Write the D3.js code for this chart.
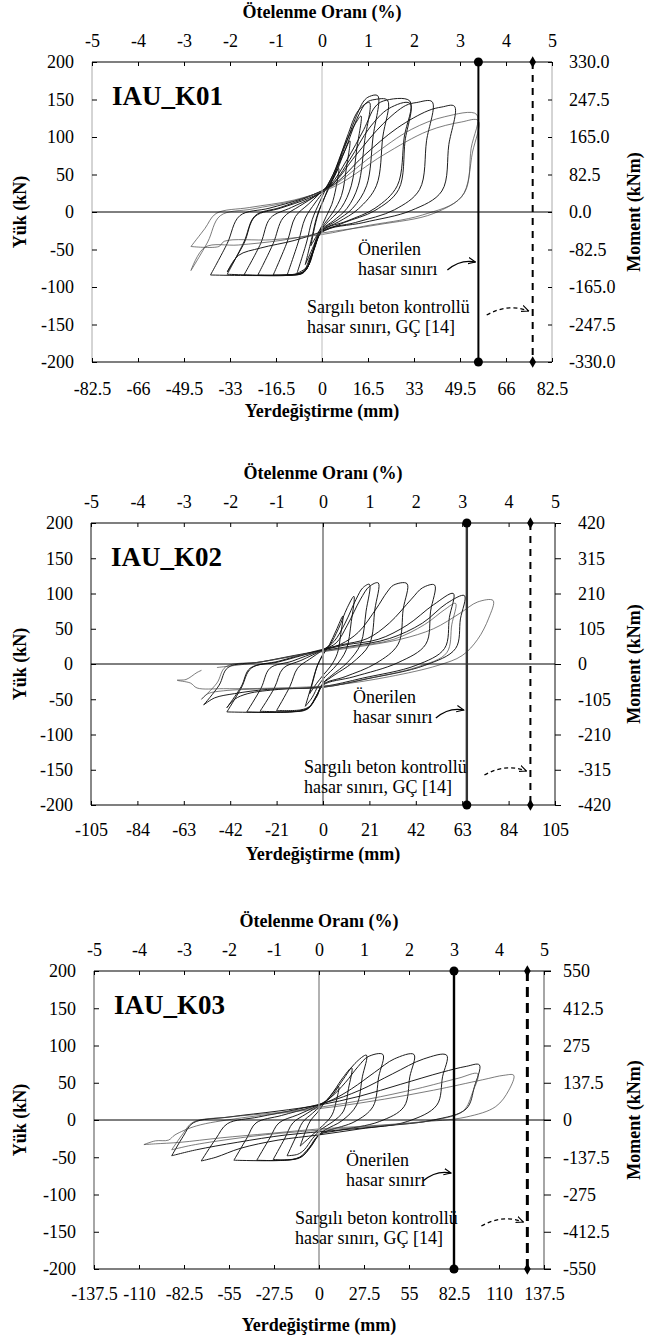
<!DOCTYPE html>
<html>
<head>
<meta charset="utf-8">
<script src="https://cdn.jsdelivr.net/npm/d3@7"></script>
<style>
  body { margin: 0; background: #fff; }
</style>
</head>
<body>
<svg class="d3" width="647" height="1341"></svg>
<script>
// tick labels
var driftTicks = [-5, -4, -3, -2, -1, 0, 1, 2, 3, 4, 5];
var loadTicks = [200, 150, 100, 50, 0, -50, -100, -150, -200];
var dispTicksK01 = ["-82.5", "-66", "-49.5", "-33", "-16.5", "0", "16.5", "33", "49.5", "66", "82.5"];
var dispTicksK02 = ["-105", "-84", "-63", "-42", "-21", "0", "21", "42", "63", "84", "105"];
var dispTicksK03 = ["-137.5", "-110", "-82.5", "-55", "-27.5", "0", "27.5", "55", "82.5", "110", "137.5"];
var momentTicksK01 = ["330.0", "247.5", "165.0", "82.5", "0.0", "-82.5", "-165.0", "-247.5", "-330.0"];
var momentTicksK02 = ["420", "315", "210", "105", "0", "-105", "-210", "-315", "-420"];
var momentTicksK03 = ["550", "412.5", "275", "137.5", "0", "-137.5", "-275", "-412.5", "-550"];

var specimens = ["IAU_K01", "IAU_K02", "IAU_K03"];
var mmPerDrift = [16.5, 21, 27.5];     // mm for 1 % drift
var proposedLimit = [3.4, 3.1, 3.0];   // Önerilen hasar sınırı (drift %)
var gcLimit = [4.58, 4.47, 4.63];      // GÇ [14] (drift %)

// hysteresis loops, [displacement mm, load kN]
var loopsK01 = [
  [[-4,-45],[-2.5,-18],[-1,2],[0.5,15],[2,30],[4,45],[6,58],[5,32],[3.5,10],[1.5,-6],[0,-18],[-2,-32],[-4,-45]],
  [[-6,-70],[-3.5,-32],[-2,-8],[0,12],[2,28],[5,55],[8,80],[10,95],[8.8,60],[7,22],[4,0],[1,-15],[-1,-26],[-3,-45],[-6,-70]],
  [[-9,-82],[-5.5,-40],[-3.5,-10],[-1,12],[1,28],[4,50],[8,88],[12,118],[14,128],[12.5,85],[10.5,35],[7,6],[3,-10],[0,-22],[-2.5,-45],[-5,-72],[-9,-82]],
  [[-12.5,-84],[-8.5,-40],[-6,-8],[-2.5,12],[1,30],[5,58],[9,100],[13,135],[17,146],[15.3,95],[13,35],[9,5],[4,-12],[0,-23],[-2.5,-45],[-5,-72],[-7,-82],[-12.5,-84]],
  [[-17.5,-84],[-12.5,-40],[-9.5,-6],[-5,10],[-1,24],[3,40],[8,85],[12,125],[15,148],[17,154],[20,155],[18.3,100],[16,35],[11,5],[5,-12],[0,-24],[-3,-50],[-5.5,-76],[-8,-83],[-17.5,-84]],
  [[-23,-84],[-17.5,-42],[-14,-8],[-8,8],[-2,22],[3,38],[8,80],[13,128],[16,146],[19,150],[23.5,149],[21.8,100],[19.5,35],[13,4],[6,-13],[0,-25],[-3,-52],[-6,-78],[-10,-83],[-23,-84]],
  [[-28,-84],[-22,-42],[-18.5,-8],[-11,6],[-3,20],[3,36],[9,70],[15,110],[19,140],[22,148],[31.5,148],[29.5,100],[27,35],[19,5],[9,-12],[0,-25],[-3.5,-55],[-6,-78],[-11,-84],[-28,-84]],
  [[-34,-80],[-28,-42],[-24,-6],[-15,5],[-5,18],[3,34],[10,70],[17,112],[24,138],[31.5,145],[29.8,95],[27.5,30],[19,2],[8,-14],[0,-26],[-10,-38],[-22,-48],[-30,-58],[-34,-80]],
  [[-34,-83],[-28,-40],[-24,-5],[-15,6],[-5,20],[4,38],[12,75],[22,118],[30,142],[34,146],[39.5,147],[37.5,95],[35,30],[26,3],[12,-14],[0,-26],[-3.5,-55],[-6.5,-80],[-12,-84],[-34,-83]],
  [[-40,-84],[-34,-42],[-29.5,-5],[-19,5],[-7,18],[4,36],[15,75],[27,112],[38,135],[43,140],[47.5,141],[45.5,90],[43,28],[32,2],[15,-14],[0,-27],[-4,-58],[-7,-80],[-14,-84],[-40,-84]],
  [[-47,-78],[-41,-40],[-36.5,-5],[-25,4],[-10,15],[3,33],[18,75],[32,110],[44,127],[55.5,130],[53.5,85],[51,25],[40,-2],[20,-17],[0,-28],[-15,-38],[-30,-44],[-42,-47],[-47,-78]],
  [[-47,-46],[-42,-22],[-38,-2],[-26,6],[-10,16],[5,35],[22,76],[38,108],[50,120],[56,122],[54,80],[50,20],[36,-4],[15,-19],[0,-30],[-18,-37],[-35,-39],[-37,-46],[-47,-46]]
];

var loopsK02 = [
  [[-6,-42],[-4,-18],[-2.5,-2],[0,13],[3,28],[6,48],[9,68],[8,42],[6.5,15],[3.5,-3],[0,-16],[-3,-28],[-6,-42]],
  [[-8,-60],[-5,-28],[-3,-6],[0,14],[3,26],[7,50],[11,80],[14,96],[12.8,60],[10.5,20],[6,-2],[1,-18],[-2,-30],[-5,-48],[-8,-60]],
  [[-21,-66],[-15,-32],[-11.5,-6],[-6,7],[0,20],[5,32],[10,58],[15,92],[18,108],[21,113],[19.5,75],[17,28],[11,2],[4,-16],[0,-27],[-3,-45],[-6,-60],[-10,-65],[-21,-66]],
  [[-28.5,-67],[-22,-34],[-18,-6],[-10,5],[0,20],[6,30],[11,55],[17,92],[21,110],[25,115],[23.5,78],[21,28],[13,1],[5,-16],[0,-28],[-3,-45],[-6.5,-62],[-12,-67],[-28.5,-67]],
  [[-34.5,-68],[-28,-34],[-24,-6],[-14,4],[-2,18],[8,28],[16,45],[24,78],[29,102],[32,112],[38,114],[36.3,78],[34,28],[24,1],[10,-18],[0,-29],[-3,-47],[-7,-64],[-14,-68],[-34.5,-68]],
  [[-43.5,-68],[-37,-34],[-32.5,-6],[-20,4],[-5,17],[8,27],[20,36],[30,58],[40,92],[45,108],[50.5,112],[48.7,75],[46.5,28],[34,2],[14,-18],[0,-30],[-3,-47],[-7.5,-64],[-16,-68],[-43.5,-68]],
  [[-43.5,-62],[-37,-32],[-33,-6],[-20,3],[-5,16],[10,27],[25,35],[38,55],[50,84],[59,100],[57.2,66],[55,22],[42,-2],[18,-20],[0,-32],[-20,-36],[-34,-42],[-40,-50],[-43.5,-62]],
  [[-54,-58],[-47,-30],[-43,-5],[-28,3],[-8,15],[12,25],[30,36],[45,58],[56,86],[64,97],[62.2,64],[60,22],[46,-2],[20,-21],[0,-33],[-25,-36],[-40,-42],[-49,-48],[-54,-58]],
  [[-55,-50],[-48,-27],[-44,-4],[-28,3],[-8,14],[12,24],[32,35],[46,56],[55,77],[60,86],[58.3,56],[56,16],[43,-4],[18,-22],[0,-33],[-25,-35],[-45,-38],[-52,-42],[-55,-50]],
  [[-48,-5],[-30,2],[-8,14],[15,24],[35,35],[50,50],[62,72],[70,88],[77,90],[75,65],[70,35],[63,12],[52,-2],[30,-18],[5,-30],[-20,-34],[-45,-35],[-57,-34],[-60,-27],[-66,-23],[-62,-22],[-57,-12],[-55,-9]]
];

var loopsK03 = [
  [[-11.5,-35],[-8,-14],[-5,0],[-1,10],[2,19],[6,30],[12,45],[10.5,25],[8,7],[4,-4],[0,-12],[-5,-22],[-11.5,-35]],
  [[-19.5,-48],[-14,-22],[-10,-3],[-4,9],[1,19],[7,32],[14,55],[20,70],[18,42],[15,12],[8,-3],[1,-13],[-4,-25],[-9,-40],[-13,-46],[-19.5,-48]],
  [[-28,-53],[-21,-25],[-16,-4],[-8,8],[0,19],[7,30],[14,52],[22,76],[29,87],[26.5,58],[23,20],[14,-1],[4,-13],[0,-20],[-5,-35],[-10,-48],[-16,-53],[-28,-53]],
  [[-38,-54],[-30,-24],[-24.5,-4],[-13,7],[-2,18],[7,30],[16,50],[24,72],[30,85],[39,88],[36.5,58],[33,18],[22,-2],[6,-14],[0,-20],[-5,-36],[-11,-50],[-20,-54],[-38,-54]],
  [[-52,-54],[-44,-24],[-38.5,-4],[-23,6],[-5,17],[8,27],[20,42],[34,64],[46,82],[58,88],[55.5,58],[52,18],[37,-2],[12,-14],[0,-20],[-6,-37],[-12,-50],[-22,-54],[-52,-54]],
  [[-72,-55],[-63,-25],[-56,-5],[-37,4],[-14,14],[5,24],[25,40],[45,62],[64,82],[78,87],[75.5,58],[72,20],[54,-2],[25,-12],[0,-20],[-25,-27],[-48,-38],[-63,-50],[-72,-55]],
  [[-90,-48],[-83,-22],[-77,-4],[-55,4],[-25,12],[0,20],[25,32],[50,48],[75,64],[90,72],[98,74],[95,45],[90,15],[70,0],[40,-8],[10,-14],[-20,-20],[-50,-30],[-75,-40],[-90,-48]],
  [[-90,-40],[-83,-18],[-77,-3],[-55,4],[-25,10],[0,17],[30,28],[60,42],[85,56],[97,62],[94,38],[88,12],[68,-1],[35,-8],[5,-13],[-25,-18],[-55,-26],[-78,-34],[-90,-40]],
  [[-107,-33],[-100,-28],[-92,-27],[-88,-20],[-75,-8],[-50,2],[-20,10],[10,18],[40,28],[70,40],[100,54],[113,60],[119,60],[116,40],[108,18],[90,4],[60,-3],[30,-8],[0,-12],[-30,-18],[-60,-24],[-85,-30],[-100,-32],[-107,-33]]
];

var loopSets = [loopsK01, loopsK02, loopsK03];
var dispTickSets = [dispTicksK01, dispTicksK02, dispTicksK03];
var momentTickSets = [momentTicksK01, momentTicksK02, momentTicksK03];

var serif = "'Liberation Serif', 'Times New Roman', serif";

// page layout for the three panels
var frames = [
  { left: 92, right: 552, axisR: 552, top: 62, bottom: 362, rTick: -4, bPad: 20, edge: "#aaa", zero: "#bbb", edgeW: 1, annY: [255, 313], annX: [358, 307] },
  { left: 91, right: 555, axisR: 555, top: 523, bottom: 805, rTick: 6, bPad: 18, edge: "#888", zero: "#999", edgeW: 2, annY: [703, 773], annX: [353, 304] },
  { left: 94, right: 544, axisR: 551, top: 971, bottom: 1269, rTick: -7, bPad: 18, edge: "#888", zero: "#999", edgeW: 1.5, annY: [1166, 1224], annX: [346, 295] }
];

var svg = d3.select("svg.d3");

svg.append("defs").append("marker")
    .attr("id", "arrow")
    .attr("viewBox", "0 -5 10 10")
    .attr("refX", 9)
    .attr("refY", 0)
    .attr("markerWidth", 8)
    .attr("markerHeight", 8)
    .attr("markerUnits", "userSpaceOnUse")
    .attr("orient", "auto")
  .append("path")
    .attr("d", "M0,-4L9,0L0,4")
    .attr("fill", "none")
    .attr("stroke", "#000")
    .attr("stroke-width", 1.4);

frames.forEach(function (f, i) {
  var g = svg.append("g");
  var x = d3.scaleLinear().domain([-5, 5]).range([f.left, f.right]);
  var xmm = d3.scaleLinear().domain([-5 * mmPerDrift[i], 5 * mmPerDrift[i]]).range([f.left, f.right]);
  var y = d3.scaleLinear().domain([-200, 200]).range([f.bottom, f.top]);

  // curves
  var line = d3.line()
      .x(function (d) { return xmm(d[0]); })
      .y(function (d) { return y(d[1]); })
      .curve(d3.curveCatmullRom.alpha(0.5));

  var loops = loopSets[i];
  g.append("g").selectAll("path")
      .data(loops)
    .enter().append("path")
      .attr("d", line)
      .attr("fill", "none")
      .attr("stroke", function (d, j) { return j >= loops.length - 2 ? "#444" : "#111"; })
      .attr("stroke-width", function (d, j) { return j >= loops.length - 2 ? 0.7 : 0.95; });

  // frame and zero lines
  g.append("line").attr("x1", f.left).attr("x2", f.left).attr("y1", f.top).attr("y2", f.bottom)
      .attr("stroke", f.edge).attr("stroke-width", f.edgeW);
  g.append("line").attr("x1", f.right).attr("x2", f.right).attr("y1", f.top).attr("y2", f.bottom)
      .attr("stroke", f.edge).attr("stroke-width", f.edgeW);
  g.append("line").attr("x1", x(0)).attr("x2", x(0)).attr("y1", f.top).attr("y2", f.bottom)
      .attr("stroke", f.zero).attr("stroke-width", f.edgeW);
  g.append("line").attr("x1", f.left).attr("x2", f.axisR).attr("y1", y(0)).attr("y2", y(0))
      .attr("stroke", "#000").attr("stroke-width", 1);
  g.append("line").attr("x1", f.left).attr("x2", f.axisR).attr("y1", f.top).attr("y2", f.top)
      .attr("stroke", "#000").attr("stroke-width", 1.2);
  g.append("line").attr("x1", f.left).attr("x2", f.axisR).attr("y1", f.bottom).attr("y2", f.bottom)
      .attr("stroke", "#000").attr("stroke-width", 1.2);

  // axes
  function style(sel) {
    sel.select(".domain").remove();
    sel.attr("font-size", 18);
    sel.selectAll(".tick line").attr("stroke", "#000");
  }
  var plain = function (d) { return String(d); };
  g.append("g").attr("transform", "translate(0," + f.top + ")")
      .call(d3.axisTop(x).tickValues(driftTicks).tickFormat(plain).tickSizeInner(-4).tickSizeOuter(0).tickPadding(15))
      .call(style);
  g.append("g").attr("transform", "translate(0," + f.bottom + ")")
      .call(d3.axisBottom(x).tickValues(driftTicks).tickSizeInner(-4).tickSizeOuter(0).tickPadding(f.bPad)
        .tickFormat(function (d, j) { return dispTickSets[i][j]; }))
      .call(style);
  g.append("g").attr("transform", "translate(" + f.left + ",0)")
      .call(d3.axisLeft(y).tickValues(loadTicks).tickFormat(plain).tickSizeInner(-5).tickSizeOuter(0).tickPadding(18))
      .call(style);
  g.append("g").attr("transform", "translate(" + f.axisR + ",0)")
      .call(d3.axisRight(y).tickValues(loadTicks).tickSizeInner(f.rTick).tickSizeOuter(0).tickPadding(i === 2 ? 12 : 17)
        .tickFormat(function (d, j) { return momentTickSets[i][j]; }))
      .call(style);

  // damage limit lines
  var xs = x(proposedLimit[i]), xg = x(gcLimit[i]);
  g.append("line").attr("x1", xs).attr("x2", xs).attr("y1", f.top).attr("y2", f.bottom)
      .attr("stroke", i === 1 ? "#333" : "#000").attr("stroke-width", i === 0 ? 2 : 2.4);
  g.selectAll("circle.lim").data([f.top, f.bottom]).enter().append("circle")
      .attr("cx", xs).attr("cy", function (d) { return d; }).attr("r", 4.5).attr("fill", "#000");
  g.append("line").attr("x1", xg).attr("x2", xg).attr("y1", f.top).attr("y2", f.bottom)
      .attr("stroke", "#000").attr("stroke-width", i === 2 ? 3 : 2)
      .attr("stroke-dasharray", i === 2 ? "10,6" : "7,6");
  g.selectAll("path.dia").data([f.top, f.bottom]).enter().append("path")
      .attr("d", d3.symbol(d3.symbolDiamond).size(38))
      .attr("transform", function (d) { return "translate(" + xg + "," + d + ")"; })
      .attr("fill", "#000");

  // annotations
  var ann = g.append("g").attr("font-size", 18);
  ann.append("text").attr("x", f.annX[0]).attr("y", f.annY[0]).text("Önerilen");
  ann.append("text").attr("x", f.annX[0]).attr("y", f.annY[0] + 20).text("hasar sınırı");
  ann.append("text").attr("x", f.annX[1]).attr("y", f.annY[1]).text("Sargılı beton kontrollü");
  ann.append("text").attr("x", f.annX[1]).attr("y", f.annY[1] + 20).text("hasar sınırı, GÇ [14]");

  var ay = f.annY[0] + 15;
  g.append("path")
      .attr("d", "M" + (xs - 31) + "," + ay + " Q" + (xs - 18) + "," + (ay - 11) + " " + (xs - 3) + "," + (ay - 8))
      .attr("fill", "none").attr("stroke", "#000").attr("stroke-width", 1.3)
      .attr("marker-end", "url(#arrow)");
  var by = f.annY[1] + 2;
  g.append("path")
      .attr("d", "M" + (xg - 46) + "," + by + " Q" + (xg - 25) + "," + (by - 12) + " " + (xg - 4) + "," + (by - 4))
      .attr("fill", "none").attr("stroke", "#000").attr("stroke-width", 1.3)
      .attr("stroke-dasharray", "4,3")
      .attr("marker-end", "url(#arrow)");

  // titles
  var cx = (f.left + f.right) / 2, cy = (f.top + f.bottom) / 2;
  g.append("text").attr("x", f.left + 20).attr("y", f.top + 43)
      .attr("font-size", 27).attr("font-weight", "bold").text(specimens[i]);
  g.append("text").attr("x", cx).attr("y", f.top - 44).attr("text-anchor", "middle")
      .attr("font-size", 18).attr("font-weight", "bold").text("Ötelenme Oranı (%)");
  g.append("text").attr("x", cx).attr("y", f.bottom + (i === 2 ? 62 : 55)).attr("text-anchor", "middle")
      .attr("font-size", 18).attr("font-weight", "bold").text("Yerdeğiştirme (mm)");
  g.append("text").attr("transform", "translate(26," + cy + ") rotate(-90)").attr("text-anchor", "middle")
      .attr("font-size", 18).attr("font-weight", "bold").text("Yük (kN)");
  g.append("text").attr("transform", "translate(640," + cy + ") rotate(-90)").attr("text-anchor", "middle")
      .attr("font-size", 18).attr("font-weight", "bold").text("Moment (kNm)");
});

// serif face for every label
svg.selectAll("text").style("font-family", serif).style("fill", "#000");
</script>
</body>
</html>
